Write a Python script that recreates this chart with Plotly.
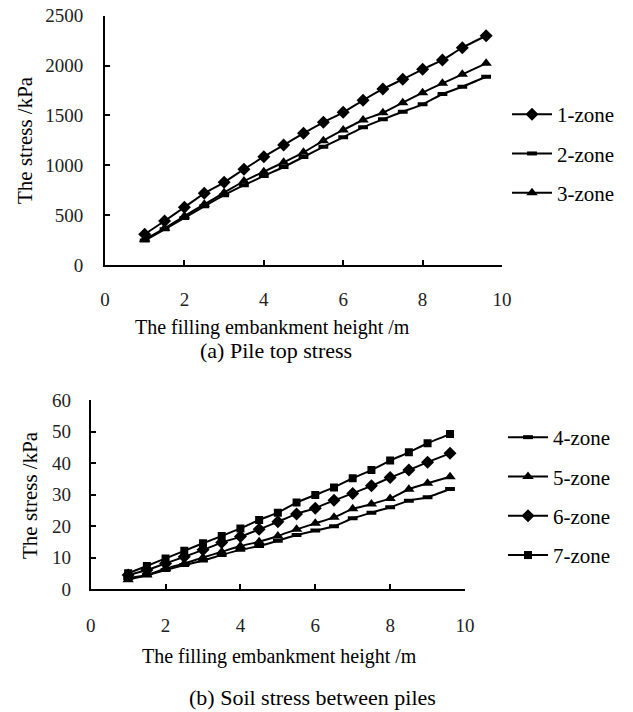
import plotly.graph_objects as go

W, H = 633, 712

# ---------------- data ----------------
x_height = [1, 1.5, 2, 2.5, 3, 3.5, 4, 4.5, 5, 5.5, 6, 6.5, 7, 7.5, 8, 8.5, 9, 9.6]

zone1 = [308, 441, 579, 719, 829, 960, 1086, 1203, 1321, 1431, 1531, 1651, 1765, 1862, 1962, 2056, 2179, 2299]
zone2 = [245, 358, 472, 588, 700, 800, 893, 983, 1083, 1185, 1280, 1381, 1461, 1537, 1611, 1715, 1788, 1888]
zone3 = [258, 368, 491, 608, 725, 842, 936, 1030, 1130, 1247, 1354, 1454, 1527, 1628, 1728, 1822, 1912, 2022]

zone4 = [3.5, 4.5, 6.1, 7.7, 9.1, 10.9, 12.5, 13.7, 15.4, 17.2, 18.6, 20.0, 22.5, 24.3, 26.0, 28.1, 29.2, 31.8]
zone5 = [3.0, 4.5, 6.6, 8.2, 10.1, 11.9, 13.7, 15.1, 16.9, 19.0, 20.9, 22.8, 25.5, 27.0, 28.8, 31.7, 33.6, 35.7]
zone6 = [4.5, 6.1, 8.2, 10.3, 12.5, 14.8, 16.7, 19.0, 21.4, 23.9, 25.7, 28.2, 30.4, 32.8, 35.4, 37.8, 40.3, 43.1]
zone7 = [5.1, 7.4, 9.8, 12.2, 14.6, 16.9, 19.3, 22.0, 24.3, 27.5, 29.9, 32.3, 35.2, 37.8, 40.8, 43.4, 46.3, 49.2]

top_names = ["1-zone", "2-zone", "3-zone"]
bot_names = ["4-zone", "5-zone", "6-zone", "7-zone"]

x_ticks = [0, 2, 4, 6, 8, 10]
top_yticks = [0, 500, 1000, 1500, 2000, 2500]
bot_yticks = [0, 10, 20, 30, 40, 50, 60]

x_title = "The filling embankment height /m"
y_title = "The stress /kPa"
cap_a = "(a) Pile top stress"
cap_b = "(b) Soil stress between piles"

# ---------------- helpers ----------------
FONT = "Liberation Serif, Times New Roman, serif"

def px(x):
    return x / W

def py(y):
    return (H - y) / H

def marker_for(kind):
    if kind == "diamond":
        return dict(symbol="diamond", size=10, color="black")
    if kind == "triangle":
        return dict(symbol="triangle-up", size=10, color="black")
    if kind == "square":
        return dict(symbol="square", size=8, color="black")
    # small dash
    return dict(symbol="line-ew", size=7, color="black", line=dict(color="black", width=4))

fig = go.Figure()

top_series = [(zone1, "diamond"), (zone2, "dash"), (zone3, "triangle")]
for (vals, kind), name in zip(top_series, top_names):
    fig.add_trace(go.Scatter(
        x=x_height, y=vals, name=name, mode="lines+markers",
        line=dict(color="black", width=2, shape="spline", smoothing=0.5),
        marker=marker_for(kind), xaxis="x", yaxis="y", legend="legend",
        legendgroup=name,
    ))

bot_series = [(zone4, "dash"), (zone5, "triangle"), (zone6, "diamond"), (zone7, "square")]
for (vals, kind), name in zip(bot_series, bot_names):
    fig.add_trace(go.Scatter(
        x=x_height, y=vals, name=name, mode="lines+markers",
        line=dict(color="black", width=2, shape="spline", smoothing=0.5),
        marker=marker_for(kind), xaxis="x2", yaxis="y2", legend="legend2",
        legendgroup=name,
    ))

axis_common = dict(
    showgrid=False, zeroline=False, showline=True, linecolor="black", linewidth=2,
    ticks="inside", ticklen=5, tickwidth=1.5, tickcolor="black", automargin=False,
    tickfont=dict(family=FONT, size=19, color="#222"),
)

fig.update_layout(
    width=W, height=H,
    margin=dict(l=0, r=0, t=0, b=0, pad=0, autoexpand=False),
    paper_bgcolor="white", plot_bgcolor="white",
    showlegend=True,
    xaxis=dict(axis_common, domain=[px(105), px(502)], range=[0, 10], tickvals=x_ticks,
               anchor="y", ticklabelstandoff=16),
    yaxis=dict(axis_common, domain=[py(265), py(15.7)], range=[0, 2500], tickvals=top_yticks,
               anchor="x", ticklabelstandoff=16),
    xaxis2=dict(axis_common, domain=[px(90.7), px(465)], range=[0, 10], tickvals=x_ticks,
                anchor="y2", ticklabelstandoff=18),
    yaxis2=dict(axis_common, domain=[py(589.3), py(400)], range=[0, 60], tickvals=bot_yticks,
                anchor="x2", ticklabelstandoff=14),
    legend=dict(x=px(507), y=py(94), xanchor="left", yanchor="top",
                font=dict(family=FONT, size=21, color="black"),
                bgcolor="rgba(0,0,0,0)", tracegroupgap=9, itemwidth=40),
    legend2=dict(x=px(503), y=py(417), xanchor="left", yanchor="top",
                 font=dict(family=FONT, size=21, color="black"),
                 bgcolor="rgba(0,0,0,0)", tracegroupgap=9, itemwidth=40),
)

annots = [
    dict(text=x_title, x=px(272), y=py(327), size=20),
    dict(text=cap_a, x=px(276), y=py(350), size=22),
    dict(text=x_title, x=px(279), y=py(656), size=20),
    dict(text=cap_b, x=px(312), y=py(697), size=22),
]
for a in annots:
    fig.add_annotation(text=a["text"], x=a["x"], y=a["y"], xref="paper", yref="paper",
                       xanchor="center", yanchor="middle", showarrow=False,
                       font=dict(family=FONT, size=a["size"], color="black"))

for (cx, cy) in [(25, 140), (30, 495)]:
    fig.add_annotation(text=y_title, x=px(cx), y=py(cy), xref="paper", yref="paper",
                       xanchor="center", yanchor="middle", showarrow=False, textangle=-90,
                       font=dict(family=FONT, size=21, color="black"))

fig.write_html("out.html", config={"displayModeBar": False},
               post_script="document.body.style.margin='0';")
